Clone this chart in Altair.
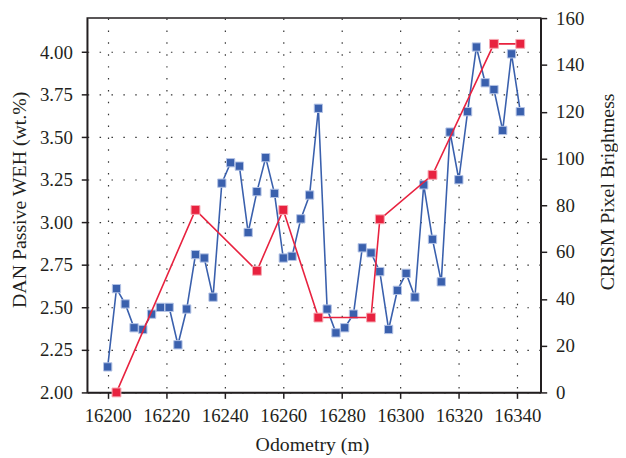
import altair as alt
import pandas as pd

# DAN Passive WEH (wt.%) — blue series
dan_odometry = [16200, 16203, 16206, 16209, 16212, 16215, 16218, 16221, 16224, 16227,
                16230, 16233, 16236, 16239, 16242, 16245, 16248, 16251, 16254, 16257,
                16260, 16263, 16266, 16269, 16272, 16275, 16278, 16281, 16284, 16287,
                16290, 16293, 16296, 16299, 16302, 16305, 16308, 16311, 16314, 16317,
                16320, 16323, 16326, 16329, 16332, 16335, 16338, 16341]
dan_weh = [2.15, 2.61, 2.52, 2.38, 2.37, 2.46, 2.50, 2.50, 2.28, 2.49,
           2.81, 2.79, 2.56, 3.23, 3.35, 3.33, 2.94, 3.18, 3.38, 3.17,
           2.79, 2.80, 3.02, 3.16, 3.67, 2.49, 2.35, 2.38, 2.46, 2.85,
           2.82, 2.71, 2.37, 2.60, 2.70, 2.56, 3.22, 2.90, 2.65, 3.53,
           3.25, 3.65, 4.03, 3.82, 3.78, 3.54, 3.99, 3.65]

# CRISM Pixel Brightness — red series
crism_odometry = [16203, 16230, 16251, 16260, 16272, 16290, 16293, 16311, 16332, 16341]
crism_brightness = [0, 78, 52, 78, 32, 32, 74, 93, 149, 149]

x_ticks = [16200, 16220, 16240, 16260, 16280, 16300, 16320, 16340]
left_ticks = [2.00, 2.25, 2.50, 2.75, 3.00, 3.25, 3.50, 3.75, 4.00]
right_ticks = list(range(0, 161, 10))

dan = pd.DataFrame({"odometry": dan_odometry, "weh": dan_weh})
crism = pd.DataFrame({"odometry": crism_odometry, "brightness": crism_brightness})

FONT = "Liberation Serif"
TXT = "#231f20"
BLUE = "#3a60ad"
RED = "#e8223f"

x_enc = alt.X(
    "odometry:Q",
    scale=alt.Scale(domain=[16193, 16348], nice=False, zero=False),
    axis=alt.Axis(
        values=x_ticks, format="d", title="Odometry (m)",
        grid=True, gridDash=[1.5, 10.5], gridColor="#333333", gridWidth=1.2,
        tickSize=6, labelPadding=8, labelOverlap=False,
        titleX=227, titleY=59, titleBaseline="alphabetic", titleAnchor="middle",
    ),
)

blue_line = alt.Chart(dan).mark_line(color=BLUE, strokeWidth=1.6).encode(
    x=x_enc,
    y=alt.Y(
        "weh:Q",
        scale=alt.Scale(domain=[2.0, 4.2], nice=False, zero=False),
        axis=alt.Axis(
            orient="left", values=left_ticks, format=".2f",
            title="DAN Passive WEH (wt.%)",
            grid=True, gridDash=[1.5, 10.5], gridColor="#333333", gridWidth=1.2,
            tickSize=6, labelPadding=9,
            titleX=-68, titleY=183, titleAngle=270, titleBaseline="middle",
            titleAlign="center",
        ),
    ),
)
blue_pts = alt.Chart(dan).mark_point(
    shape="square", filled=True, size=70, color=BLUE, opacity=1,
    stroke="#b4c3e6", strokeWidth=1,
).encode(x="odometry:Q", y="weh:Q")

red_line = alt.Chart(crism).mark_line(color=RED, strokeWidth=1.6).encode(
    x="odometry:Q",
    y=alt.Y(
        "brightness:Q",
        scale=alt.Scale(domain=[0, 160], nice=False, zero=False),
        axis=alt.Axis(
            orient="right", values=right_ticks,
            labelExpr="datum.value % 20 === 0 ? datum.label : ''",
            title="CRISM Pixel Brightness", grid=False,
            tickSize={"condition": {"test": "datum.value % 20 === 0", "value": 6}, "value": 3},
            labelPadding=9,
            titleX=67, titleY=175, titleAngle=270, titleBaseline="middle",
            titleAlign="center",
        ),
    ),
)
red_pts = alt.Chart(crism).mark_point(
    shape="square", filled=True, size=80, color=RED, opacity=1,
    stroke="#f6a8b2", strokeWidth=1,
).encode(x="odometry:Q", y="brightness:Q")

left_layer = alt.layer(blue_line, blue_pts)
right_layer = alt.layer(red_line, red_pts)

chart = (
    alt.layer(left_layer, right_layer)
    .resolve_scale(y="independent")
    .properties(
        width=458, height=378,
        autosize=alt.AutoSizeParams(type="none"),
        padding={"left": 80, "top": 8, "right": 78, "bottom": 62},
    )
    .configure_view(stroke=TXT, strokeWidth=1.5)
    .configure_axis(
        labelFont=FONT, titleFont=FONT, labelFontSize=19, titleFontSize=20,
        labelColor=TXT, titleColor=TXT, titleFontWeight="normal",
        domainColor=TXT, tickColor=TXT, domainWidth=1.5, tickWidth=1.5,
    )
)

chart.save("out.html", embed_options={"renderer": "svg", "actions": False})
